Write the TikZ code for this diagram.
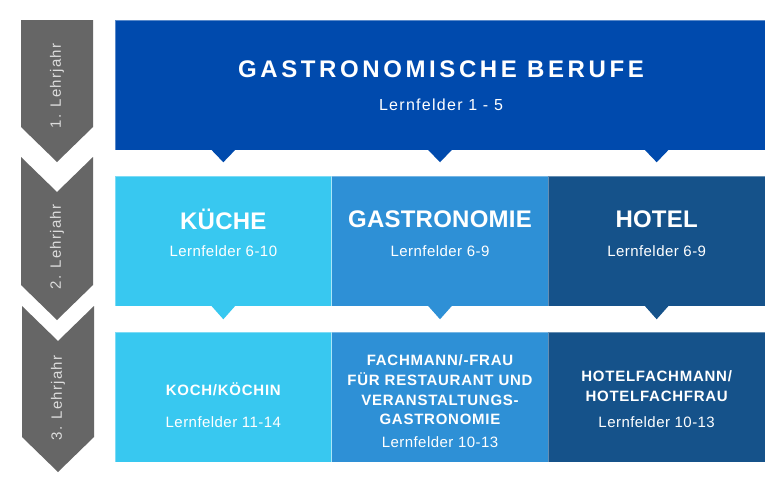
\documentclass[tikz,border=0pt]{standalone}
\usepackage{fontspec}
\setmainfont{Liberation Sans}
\newfontfamily\bigtitlefont[LetterSpace=15]{Liberation Sans}
\newfontfamily\midtitlefont[LetterSpace=1]{Liberation Sans}
\newfontfamily\smalltitlefont[LetterSpace=5]{Liberation Sans}
\newfontfamily\lernfont[LetterSpace=8]{Liberation Sans}
\newfontfamily\lernsmallfont[LetterSpace=3]{Liberation Sans}
\newfontfamily\yearfont[LetterSpace=8]{Liberation Sans}
\usetikzlibrary{calc}
\definecolor{cTop}{RGB}{0,74,173}
\definecolor{cKueche}{RGB}{56,200,240}
\definecolor{cGastro}{RGB}{46,144,214}
\definecolor{cHotel}{RGB}{21,82,138}
\definecolor{cYear}{RGB}{102,102,102}
\definecolor{cYearText}{RGB}{220,220,220}
\begin{document}
\begin{tikzpicture}[x=1pt,y=-1pt,
  box/.style={inner sep=0pt, minimum width=216.67pt, minimum height=130pt, draw=white, draw opacity=0.35, line width=0.5pt},
  bigtitle/.style={text=white, font=\bigtitlefont\bfseries\fontsize{24}{27}\selectfont},
  midtitle/.style={text=white, font=\midtitlefont\bfseries\fontsize{24}{27}\selectfont},
  smalltitle/.style={text=white, align=center, font=\smalltitlefont\bfseries\fontsize{15}{19.7}\selectfont},
  lernbig/.style={text=white, font=\lernfont\fontsize{16}{18}\selectfont},
  lern/.style={text=white, font=\lernsmallfont\fontsize{15}{17}\selectfont},
  yeartext/.style={text=cYearText, rotate=90, font=\yearfont\fontsize{15}{17}\selectfont}]
\useasboundingbox (0,0) rectangle (783,488);
\fill[white] (0,0) rectangle (783,488);

% year chevrons
\fill[cYear] (21,20) -- (93,20) -- (93,127) -- (57,162) -- (21,127) -- cycle;
\fill[cYear] (21,157) -- (57,192) -- (93,157) -- (93,285) -- (57,320) -- (21,285) -- cycle;
\fill[cYear] (22,306) -- (58,341) -- (94,306) -- (94,437) -- (58,472) -- (22,437) -- cycle;
\node[yeartext] (y1) at (57,86) {1. Lehrjahr};
\node[yeartext] (y2) at (57,247) {2. Lehrjahr};
\node[yeartext] (y3) at (58,398) {3. Lehrjahr};

% boxes
\node[box, fill=cTop, minimum width=650pt] (top) at (440,85) {};
\node[box, fill=cKueche] (kueche) at (223.33,241) {};
\node[box, fill=cGastro] (gastro) at (440,241) {};
\node[box, fill=cHotel] (hotel) at (656.67,241) {};
\node[box, fill=cKueche] (koch) at (223.33,397) {};
\node[box, fill=cGastro] (fach) at (440,397) {};
\node[box, fill=cHotel] (hotelfach) at (656.67,397) {};

% pointers
\foreach \c/\col in {kueche/cTop, gastro/cTop, hotel/cTop} {
  \fill[\col] ($(\c.north |- top.south)+(-12,-0.5)$) -- ($(\c.north |- top.south)+(12,-0.5)$) -- ($(\c.north |- top.south)+(0,12)$) -- cycle;
}
\foreach \c/\col in {kueche/cKueche, gastro/cGastro, hotel/cHotel} {
  \fill[\col] ($(\c.south)+(-12,-0.5)$) -- ($(\c.south)+(12,-0.5)$) -- ($(\c.south)+(0,13)$) -- cycle;
}

% texts
\node[bigtitle] (t1) at (441,69) {GASTRONOMISCHE BERUFE};
\node[lernbig] (l1) at (441,105) {Lernfelder 1 - 5};

\node[midtitle] (t2a) at (kueche.center |- 0,219) {KÜCHE};
\node[midtitle] (t2b) at (gastro.center |- 0,219) {GASTRONOMIE};
\node[midtitle] (t2c) at (hotel.center |- 0,219) {HOTEL};
\node[lern] (l2a) at (kueche.center |- 0,251) {Lernfelder 6-10};
\node[lern] (l2b) at (gastro.center |- 0,251) {Lernfelder 6-9};
\node[lern] (l2c) at (hotel.center |- 0,251) {Lernfelder 6-9};

\node[smalltitle] (t3a) at (koch.center |- 0,389) {KOCH/KÖCHIN};
\node[lern] (l3a) at (koch.center |- 0,422) {Lernfelder 11-14};
\node[smalltitle] (t3b) at (fach.center |- 0,390) {FACHMANN/-FRAU\\FÜR RESTAURANT UND\\VERANSTALTUNGS-\\GASTRONOMIE};
\node[lern] (l3b) at (fach.center |- 0,442) {Lernfelder 10-13};
\node[smalltitle] (t3c) at (hotelfach.center |- 0,386) {HOTELFACHMANN/\\HOTELFACHFRAU};
\node[lern] (l3c) at (hotelfach.center |- 0,422) {Lernfelder 10-13};
\end{tikzpicture}
\end{document}
